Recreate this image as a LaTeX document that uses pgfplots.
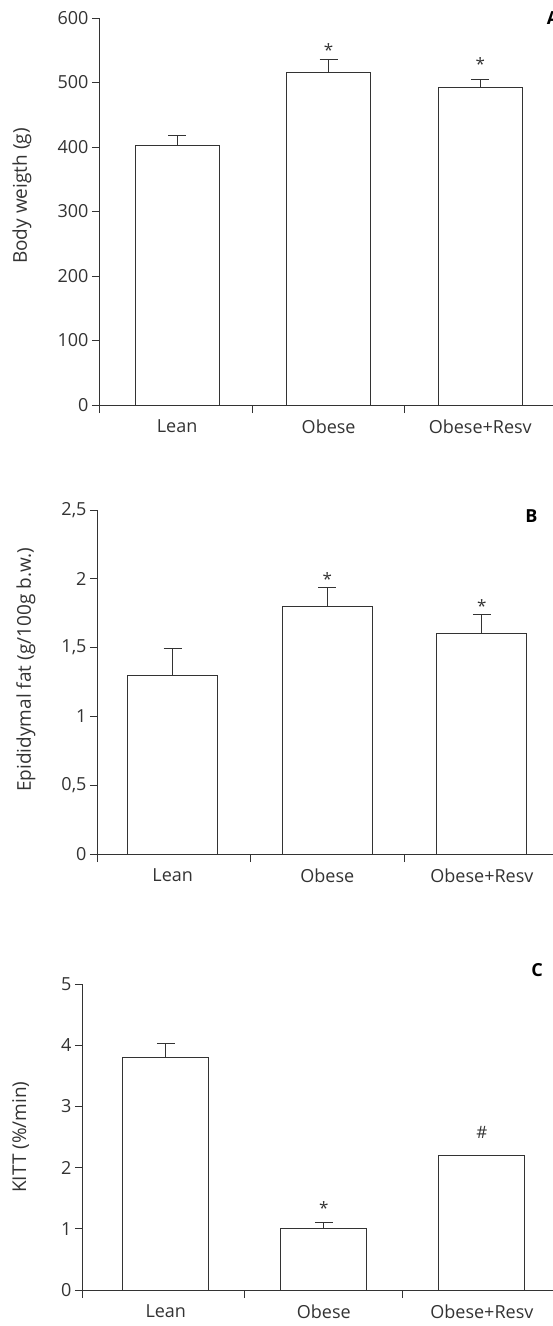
\documentclass[border=0pt]{standalone}
\usepackage{fontspec}
\setmainfont{Open Sans}
\usepackage{pgfplots}
\pgfplotsset{compat=1.18}
\definecolor{ink}{HTML}{333333}
\tikzset{
  mk/.style={font=\fontsize{17}{20}\selectfont, text=ink, inner sep=0pt},
  lt/.style={font=\bfseries\fontsize{18}{21}\selectfont, text=black},
}
\begin{document}
\begin{tikzpicture}
\useasboundingbox (0pt,0pt) rectangle (553pt,-1326pt);
\pgfplotsset{
  panel/.style={
    scale only axis,
    anchor=south west,
    axis x line*=bottom, axis y line*=left,
    axis line style={ink, line width=1pt, -},
    tick align=outside,
    major tick length=7pt,
    minor tick length=8pt,
    every tick/.style={ink, line width=1pt},
    xtick={0,1,2},
    xticklabels={Lean,Obese,Obese+Resv},
    major x tick style={draw=none},
    minor x tick style={ink, line width=1pt},
    every tick label/.append style={font=\fontsize{18}{21}\selectfont, text=ink},
    x tick label style={yshift=-4pt},
    ylabel style={font=\fontsize{19}{22}\selectfont, text=ink, anchor=center},
    clip=false,
  },
  barstyle/.style={ybar, bar width=#1, fill=white, draw=ink, line width=1pt,
    error bars/.cd, y dir=plus, y explicit,
    error bar style={ink, line width=1pt},
    error mark options={ink, line width=1pt, mark size=9pt, rotate=90}},
}
% Panel A
\begin{axis}[panel, at={(99pt,-405pt)}, width=454pt, height=387pt,
  xmin=-0.515, xmax=2.48, ymin=0, ymax=600,
  minor xtick={-0.515,0.5,1.5},
  ytick={0,100,200,300,400,500,600},
  yticklabels={0,100,200,300,400,500,600},
  ylabel={Body weigth (g)},
  ylabel style={at={(axis description cs:-0.17,0.54)}},
]
\addplot[barstyle=84pt] coordinates {(0,403) +- (0,15) (1,515) +- (0,20) (2,493) +- (0,11)};
\node[mk] at (axis cs:1,551) {*};
\node[mk] at (axis cs:2,529) {*};
\node[lt] at (axis cs:2.48,600) {A};
\end{axis}
% Panel B
\begin{axis}[panel, at={(97pt,-854pt)}, width=456pt, height=344pt,
  xmin=-0.49, xmax=2.46, ymin=0, ymax=2.5,
  minor xtick={-0.49,0.5,1.5},
  ytick={0,0.5,1,1.5,2,2.5},
  yticklabels={0,{0,5},1,{1,5},2,{2,5}},
  ylabel={Epididymal fat (g/100g b.w.)},
  ylabel style={at={(axis description cs:-0.156,0.535)}},
]
\addplot[barstyle=90pt] coordinates {(0,1.30) +- (0,0.19) (1,1.80) +- (0,0.135) (2,1.60) +- (0,0.14)};
\node[mk] at (axis cs:1,2.0) {*};
\node[mk] at (axis cs:2,1.80) {*};
\node[lt] at (axis cs:2.32,2.456) {B};
\end{axis}
% Panel C
\begin{axis}[panel, at={(82pt,-1290pt)}, width=471pt, height=306pt,
  xmin=-0.53, xmax=2.45, ymin=0, ymax=5,
  minor xtick={-0.53,0.5,1.5},
  ytick={0,1,2,3,4,5},
  yticklabels={0,1,2,3,4,5},
  ylabel={KITT (\%/min)},
  ylabel style={at={(axis description cs:-0.13,0.5)}},
]
\addplot[barstyle=86pt] coordinates {(0,3.80) +- (0,0.22) (1,1.00) +- (0,0.105)};
\addplot[ybar, bar width=86pt, fill=white, draw=ink, line width=1pt] coordinates {(2,2.20)};
\node[mk] at (axis cs:1,1.34) {*};
\node[mk] at (axis cs:2,2.58) {\#};
\node[lt] at (axis cs:2.35,5.23) {C};
\end{axis}
\end{tikzpicture}
\end{document}
